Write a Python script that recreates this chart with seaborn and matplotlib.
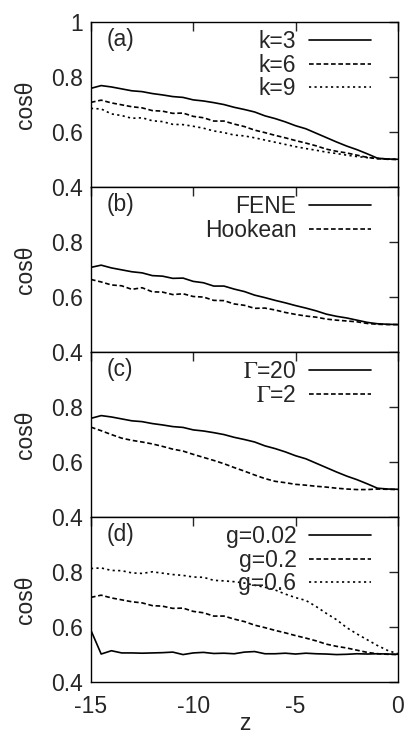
import numpy as np
import pandas as pd
import matplotlib
matplotlib.use("Agg")
import matplotlib.pyplot as plt
import seaborn as sns

# z positions shared by every curve
z = [-15.0, -14.5, -14.0, -13.5, -13.0, -12.5, -12.0, -11.5, -11.0, -10.5,
     -10.0, -9.5, -9.0, -8.5, -8.0, -7.5, -7.0, -6.5, -6.0, -5.5,
     -5.0, -4.5, -4.0, -3.5, -3.0, -2.5, -2.0, -1.5, -1.0, -0.5, 0.0]

# (a) spring constant
k3 = [0.759, 0.769, 0.764, 0.757, 0.750, 0.747, 0.740, 0.735, 0.729, 0.726,
      0.717, 0.713, 0.707, 0.700, 0.690, 0.682, 0.673, 0.659, 0.649, 0.637,
      0.623, 0.612, 0.596, 0.580, 0.564, 0.549, 0.536, 0.521, 0.505, 0.502, 0.501]
k6 = [0.708, 0.716, 0.706, 0.699, 0.692, 0.688, 0.678, 0.676, 0.668, 0.669,
      0.657, 0.652, 0.640, 0.640, 0.629, 0.620, 0.607, 0.598, 0.588, 0.579,
      0.569, 0.560, 0.550, 0.538, 0.530, 0.524, 0.516, 0.508, 0.503, 0.501, 0.500]
k9 = [0.686, 0.684, 0.666, 0.660, 0.650, 0.652, 0.641, 0.638, 0.628, 0.627,
      0.621, 0.614, 0.604, 0.598, 0.589, 0.586, 0.579, 0.571, 0.563, 0.555,
      0.547, 0.540, 0.534, 0.527, 0.522, 0.516, 0.511, 0.507, 0.504, 0.502, 0.501]

# (b) spring law
fene = k6
hookean = [0.664, 0.655, 0.644, 0.641, 0.628, 0.634, 0.619, 0.618, 0.609, 0.612,
           0.602, 0.600, 0.588, 0.587, 0.575, 0.570, 0.559, 0.560, 0.553, 0.544,
           0.537, 0.531, 0.527, 0.520, 0.516, 0.513, 0.510, 0.504, 0.501, 0.500, 0.500]

# (c) Gamma
gam20 = k3
gam2 = [0.727, 0.714, 0.700, 0.687, 0.679, 0.673, 0.666, 0.657, 0.647, 0.640,
        0.628, 0.617, 0.606, 0.594, 0.580, 0.567, 0.553, 0.540, 0.530, 0.525,
        0.519, 0.516, 0.512, 0.509, 0.505, 0.502, 0.500, 0.500, 0.502, 0.501, 0.500]

# (d) g
g002 = [0.588, 0.502, 0.514, 0.506, 0.506, 0.505, 0.506, 0.507, 0.509, 0.500,
        0.506, 0.508, 0.504, 0.505, 0.503, 0.509, 0.511, 0.503, 0.503, 0.505,
        0.502, 0.505, 0.503, 0.502, 0.500, 0.501, 0.503, 0.502, 0.503, 0.502, 0.501]
g02 = k6
g06 = [0.813, 0.815, 0.806, 0.805, 0.797, 0.795, 0.801, 0.796, 0.791, 0.788,
       0.782, 0.781, 0.770, 0.768, 0.765, 0.760, 0.752, 0.745, 0.735, 0.720,
       0.707, 0.697, 0.675, 0.650, 0.627, 0.598, 0.575, 0.554, 0.533, 0.515, 0.503]

panels = [
    ("(a)", [("k=3", k3), ("k=6", k6), ("k=9", k9)]),
    ("(b)", [("FENE", fene), ("Hookean", hookean)]),
    ("(c)", [(r"$\Gamma$=20", gam20), (r"$\Gamma$=2", gam2)]),
    ("(d)", [("g=0.02", g002), ("g=0.2", g02), ("g=0.6", g06)]),
]
styles = ["-", (0, (2.8, 1.6)), (0, (1.3, 2.0))]

sns.set_theme(style="white")
plt.rcParams["font.family"] = ["Liberation Sans", "DejaVu Sans"]
plt.rcParams["mathtext.fontset"] = "stix"
plt.rcParams["font.size"] = 16.5

fig, axes = plt.subplots(4, 1, figsize=(4.06, 7.35), dpi=100, sharex=True)
fig.subplots_adjust(left=0.224, right=0.980, top=0.970, bottom=0.072, hspace=0)

for i, (ax, (tag, series)) in enumerate(zip(axes, panels)):
    for j, (lab, vals) in enumerate(series):
        df = pd.DataFrame({"z": z, "cos": vals})
        sns.lineplot(data=df, x="z", y="cos", ax=ax, color="black",
                     linestyle=styles[j], linewidth=1.2, label=lab)
    ax.set_xlim(-15, 0)
    ax.set_ylim(0.4, 1.0)
    if i == 0:
        ax.set_yticks([0.4, 0.6, 0.8, 1.0])
        ax.set_yticklabels(["0.4", "0.6", "0.8", "1"])
    else:
        ax.set_yticks([0.4, 0.6, 0.8])
        ax.set_yticklabels(["0.4", "0.6", "0.8"])
    ax.set_xticks([-15, -10, -5, 0])
    ax.set_xticklabels(["-15", "-10", "-5", "0"])
    ax.tick_params(direction="in", length=6.5, width=1, top=True, right=True,
                   labelsize=16.5)
    ax.tick_params(axis="y", pad=6)
    ax.tick_params(axis="x", pad=9)
    for sp in ax.spines.values():
        sp.set_linewidth(1)
        sp.set_color("black")
    ax.set_ylabel("cosθ", fontsize=16.5, labelpad=10)
    ax.set_xlabel("")
    ax.text(0.052, 0.895, tag, transform=ax.transAxes, fontsize=16.5,
            ha="left", va="center")
    ax.legend(loc="upper right", bbox_to_anchor=(0.912, 0.95), frameon=False,
              markerfirst=False, handlelength=2.7, handletextpad=0.55,
              labelspacing=0.02, borderpad=0, borderaxespad=0, fontsize=16.5)

axes[-1].set_xlabel("z", fontsize=16.5)
axes[-1].xaxis.set_label_coords(0.5, -0.18)

fig.savefig("out.png", dpi=100)
